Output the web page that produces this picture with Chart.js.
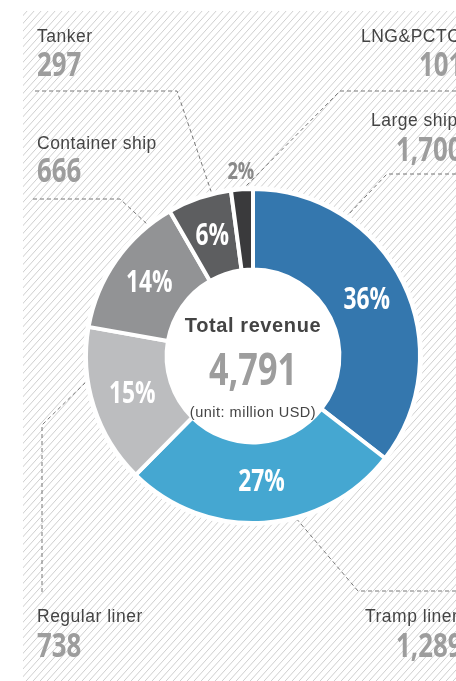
<!DOCTYPE html>
<html>
<head>
<meta charset="utf-8">
<script src="https://cdn.jsdelivr.net/npm/chart.js@4.4.0/dist/chart.umd.min.js"></script>
<style>
  html, body { margin: 0; padding: 0; background: #fff; }
  #wrap { position: relative; width: 456px; height: 681px; }
</style>
</head>
<body>
<div id="wrap"><canvas id="revenue"></canvas></div>
<script>
// Revenue by ship type (unit: million USD), clockwise from the top
const categories = ['Large ship', 'Tramp liner', 'Regular liner', 'Container ship', 'Tanker', 'LNG&PCTC'];
const revenue = [1700, 1289, 738, 666, 297, 101];
const revenueText = ['1,700', '1,289', '738', '666', '297', '101'];
const shares = [36, 27, 15, 14, 6, 2];
const totalText = '4,791';
const colors = ['#3477ae', '#45a7d1', '#bcbdbf', '#929395', '#5d5e60', '#3a3a3c'];

// Caption spots (name, value) and the dashed leader lines, in page pixels
const captionPos = [
    { nx: 371, ny: 126, vx: 396, vy: 161, line: [[456, 174], [387, 174], [347, 216]] },
    { nx: 365, ny: 622, vx: 396, vy: 657, line: [[456, 591], [358, 591], [295, 517]] },
    { nx: 37, ny: 622, vx: 37, vy: 657, line: [[42, 592], [42, 425], [88, 380]] },
    { nx: 37, ny: 149, vx: 37, vy: 182, line: [[33, 199], [120, 199], [147, 224]] },
    { nx: 37, ny: 42, vx: 37, vy: 76, line: [[35, 91], [177, 91], [212, 194]] },
    { nx: 361, ny: 42, vx: 419, vy: 76, line: [[456, 91], [340, 91], [245, 187]] }
];

const NARROW = '"Open Sans", "Noto Sans", sans-serif';
const PLAIN = '"Liberation Sans", Arial, sans-serif';

/*
*   Draws squeezed bold digits (condensed look)
*/
function narrowText(ctx, text, x, y, size, align) {
    ctx.save();
    ctx.translate(x, y);
    ctx.scale(0.76, 1);
    ctx.font = 'bold ' + size + 'px ' + NARROW;
    ctx.textAlign = align;
    ctx.fillText(text, 0, 0);
    ctx.restore();
}

/*
*   Diagonal hatching, leader lines and captions behind the ring
*/
const backdrop = {
    id: 'backdrop',
    beforeDraw(chart) {
        const ctx = chart.ctx;
        const w = chart.width, h = chart.height;
        ctx.save();
        ctx.beginPath();
        ctx.rect(23, 11, w - 23, h - 11);
        ctx.clip();
        ctx.strokeStyle = '#cfcfcf';
        ctx.lineWidth = 1;
        const run = h * 0.9;
        for (let x = 23 - run; x < w + run; x += 7) {
            ctx.beginPath();
            ctx.moveTo(x, h);
            ctx.lineTo(x + run, 0);
            ctx.stroke();
        }
        ctx.restore();

        // leader lines
        ctx.save();
        ctx.strokeStyle = '#777';
        ctx.lineWidth = 1;
        ctx.setLineDash([4, 3]);
        captionPos.forEach(p => {
            ctx.beginPath();
            p.line.forEach((pt, i) => i ? ctx.lineTo(pt[0], pt[1]) : ctx.moveTo(pt[0], pt[1]));
            ctx.stroke();
        });
        ctx.restore();

        // captions
        ctx.save();
        ctx.textBaseline = 'alphabetic';
        ctx.textAlign = 'left';
        categories.forEach((name, i) => {
            const p = captionPos[i];
            ctx.letterSpacing = '0.5px';
            ctx.font = '17.5px ' + PLAIN;
            ctx.fillStyle = '#444';
            ctx.fillText(name, p.nx, p.ny);
            ctx.letterSpacing = '0px';
            ctx.fillStyle = '#9d9d9d';
            narrowText(ctx, revenueText[i], p.vx, p.vy, 34, 'left');
        });
        ctx.restore();
    },
    beforeDatasetsDraw(chart) {
        // white halo under the ring
        const arc = chart.getDatasetMeta(0).data[0];
        const ctx = chart.ctx;
        ctx.save();
        ctx.fillStyle = '#fff';
        ctx.beginPath();
        ctx.arc(arc.x, arc.y, arc.outerRadius + 3, 0, Math.PI * 2);
        ctx.fill();
        ctx.restore();
    },
    afterDatasetsDraw(chart) {
        const ctx = chart.ctx;
        const meta = chart.getDatasetMeta(0);
        ctx.save();
        ctx.textAlign = 'center';
        ctx.textBaseline = 'middle';
        meta.data.forEach((arc, i) => {
            if (shares[i] >= 5) {
                const pos = arc.tooltipPosition();
                ctx.fillStyle = '#fff';
                narrowText(ctx, shares[i] + '%', pos.x, pos.y, 30, 'center');
            } else {
                const mid = (arc.startAngle + arc.endAngle) / 2;
                const r = arc.outerRadius + 17;
                ctx.fillStyle = '#8a8a8a';
                narrowText(ctx, shares[i] + '%', arc.x + Math.cos(mid) * r, arc.y + Math.sin(mid) * r, 24, 'center');
            }
        });

        // centre text
        const c = meta.data[0];
        ctx.fillStyle = '#444';
        ctx.letterSpacing = '0.6px';
        ctx.font = 'bold 20px ' + PLAIN;
        ctx.fillText('Total revenue', c.x, c.y - 30);
        ctx.letterSpacing = '0px';
        ctx.fillStyle = '#9d9d9d';
        narrowText(ctx, totalText, c.x, c.y + 16, 45, 'center');
        ctx.letterSpacing = '0.5px';
        ctx.font = '14.5px ' + PLAIN;
        ctx.fillStyle = '#444';
        ctx.fillText('(unit: million USD)', c.x, c.y + 57);
        ctx.restore();
    }
};

let ctx = document.getElementById('revenue').getContext('2d');
let chart = new Chart(ctx, {
    type: 'doughnut',
    data: {
        labels: categories,
        datasets: [{
            data: revenue,
            backgroundColor: colors,
            borderColor: '#fff',
            borderWidth: 4,
            hoverOffset: 0
        }]
    },
    options: {
        responsive: true,
        maintainAspectRatio: false,
        animation: false,
        radius: 167,
        cutout: 104,
        layout: { padding: { left: 50, top: 31, right: 0, bottom: 0 } },
        plugins: {
            legend: { display: false },
            tooltip: { enabled: false }
        }
    },
    plugins: [backdrop]
});
</script>
</body>
</html>
